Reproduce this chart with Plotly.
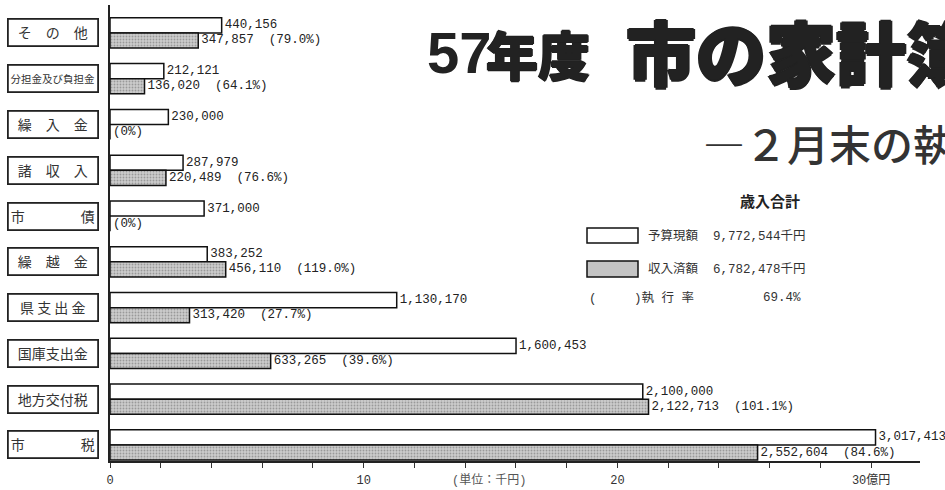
import plotly.graph_objects as go

# ---------------- data ----------------
categories = ["その他", "分担金及び負担金", "繰入金", "諸収入", "市債",
              "繰越金", "県支出金", "国庫支出金", "地方交付税", "市税"]
box_labels = ["そ　の　他", "分担金及び負担金", "繰　入　金", "諸　収　入", "市　　　　債",
              "繰　越　金", "県 支 出 金", "国庫支出金", "地方交付税", "市　　　　税"]
budget = [440156, 212121, 230000, 287979, 371000,
          383252, 1130170, 1600453, 2100000, 3017413]          # 予算現額 (千円)
revenue = [347857, 136020, 0, 220489, 0,
           456110, 313420, 633265, 2122713, 2552604]          # 収入済額 (千円)
rates = ["79.0%", "64.1%", "0%", "76.6%", "0%",
         "119.0%", "27.7%", "39.6%", "101.1%", "84.6%"]      # 執行率
tick_vals = [0, 1000000, 2000000, 3000000]
tick_text = ["0", "10", "20", "30億円"]

W, H = 945, 490
L, R, T, B = 110, 25, 5, 29
PW, PH = W - L - R, H - T - B

def px(x):
    return (x - L) / PW

def py(y):
    return (H - B - y) / PH

NUM_FONT = "Liberation Mono, Noto Sans CJK JP"
JP_FONT = "Noto Sans CJK JP"
HEAVY = "1px 0 0 #222, -1px 0 0 #222, 0 1px 0 #222, 0 -1px 0 #222"

budget_text = [f"{v:,}" for v in budget]
revenue_text = [("(0%)" if v == 0 else f"{v:,}\u00a0\u00a0({r})") for v, r in zip(revenue, rates)]

fig = go.Figure()
fig.add_trace(go.Bar(
    y=categories, x=budget, orientation="h", name="予算現額",
    marker=dict(color="white", line=dict(color="#111", width=1.5)),
    text=budget_text, textposition="outside", cliponaxis=False,
    constraintext="none",
    textfont=dict(family=NUM_FONT, size=12.5, color="#222"),
))
fig.add_trace(go.Bar(
    y=categories, x=revenue, orientation="h", name="収入済額",
    marker=dict(color="#c4c4c4", line=dict(color="#111", width=1.5),
                pattern=dict(shape=".", fgcolor="#666", bgcolor="#cccccc",
                             size=3, solidity=0.3)),
    text=revenue_text, textposition="outside", cliponaxis=False,
    constraintext="none",
    textfont=dict(family=NUM_FONT, size=12.5, color="#222"),
))

annotations = []
shapes = []

# category label boxes
for cat, lab in zip(categories, box_labels):
    fs = 10.5 if len(lab) >= 8 else 14
    annotations.append(dict(
        x=px(53), y=cat, xref="paper", yref="y", text=lab, showarrow=False,
        width=88, height=25, bgcolor="white", bordercolor="#222", borderwidth=1.8,
        borderpad=0, font=dict(family=JP_FONT, size=fs, color="#333"),
        xanchor="center", yanchor="middle"))

# title
annotations.append(dict(x=px(425), y=py(52), xref="paper", yref="paper",
                        text="<b>57</b>", showarrow=False, xanchor="left", yanchor="middle",
                        font=dict(family="Liberation Sans", size=58, color="#222")))
annotations.append(dict(x=px(484), y=py(54), xref="paper", yref="paper",
                        text="年度", showarrow=False, xanchor="left", yanchor="middle",
                        font=dict(family=JP_FONT, size=52, color="#222", weight=900,
                                  shadow=HEAVY)))
annotations.append(dict(x=px(624), y=py(50), xref="paper", yref="paper",
                        text="市の家計簿", showarrow=False, xanchor="left", yanchor="middle",
                        font=dict(family=JP_FONT, size=70, color="#222", weight=900,
                                  shadow="1.5px 0 0 #222, -1.5px 0 0 #222, 0 1.5px 0 #222, 0 -1.5px 0 #222")))
annotations.append(dict(x=px(701), y=py(142), xref="paper", yref="paper",
                        text="―２月末の執行状況―", showarrow=False, xanchor="left",
                        yanchor="middle",
                        font=dict(family=JP_FONT, size=42, color="#333", weight=500)))

# legend block
annotations.append(dict(x=px(770), y=py(200), xref="paper", yref="paper",
                        text="<b>歳入合計</b>", showarrow=False, xanchor="center",
                        yanchor="middle", font=dict(family=JP_FONT, size=15, color="#222")))
shapes.append(dict(type="rect", xref="paper", yref="paper",
                   x0=px(587), x1=px(638), y0=py(243), y1=py(228),
                   fillcolor="white", line=dict(color="#111", width=1.5)))
shapes.append(dict(type="rect", xref="paper", yref="paper",
                   x0=px(587), x1=px(638), y0=py(277), y1=py(261),
                   fillcolor="#c4c4c4", line=dict(color="#111", width=1.5)))
annotations.append(dict(x=px(646), y=py(236), xref="paper", yref="paper",
                        text="予算現額\u00a0\u00a09,772,544千円", showarrow=False,
                        xanchor="left", yanchor="middle",
                        font=dict(family=NUM_FONT, size=12.5, color="#333")))
annotations.append(dict(x=px(646), y=py(269), xref="paper", yref="paper",
                        text="収入済額\u00a0\u00a06,782,478千円", showarrow=False,
                        xanchor="left", yanchor="middle",
                        font=dict(family=NUM_FONT, size=12.5, color="#333")))
annotations.append(dict(x=px(587), y=py(298), xref="paper", yref="paper",
                        text="(\u00a0\u00a0\u00a0\u00a0\u00a0)執 行 率", showarrow=False,
                        xanchor="left", yanchor="middle",
                        font=dict(family=NUM_FONT, size=12.5, color="#333")))
annotations.append(dict(x=px(803), y=py(298), xref="paper", yref="paper",
                        text="69.4%", showarrow=False,
                        xanchor="right", yanchor="middle",
                        font=dict(family=NUM_FONT, size=12.5, color="#333")))

# unit note
annotations.append(dict(x=px(489), y=py(480), xref="paper", yref="paper",
                        text="(単位：千円)", showarrow=False,
                        xanchor="center", yanchor="middle",
                        font=dict(family=NUM_FONT, size=12, color="#555")))

fig.update_layout(
    width=W, height=H,
    margin=dict(l=L, r=R, t=T, b=B, autoexpand=False),
    paper_bgcolor="white", plot_bgcolor="white",
    barmode="group", bargap=0.34, bargroupgap=0,
    showlegend=False,
    annotations=annotations, shapes=shapes,
    xaxis=dict(range=[0, 810 / 253.7 * 1e6], showgrid=False, zeroline=False,
               automargin=False,
               showline=True, linecolor="#222", linewidth=1.5,
               tickvals=tick_vals, ticktext=tick_text, ticks="outside",
               ticklen=5, tickwidth=1.2, tickcolor="#333", ticklabelstandoff=2,
               minor=dict(dtick=200000, tick0=0, ticks="outside", ticklen=5,
                          tickwidth=1.2, tickcolor="#333"),
               tickfont=dict(family="Liberation Mono, Noto Sans CJK JP", size=12, color="#333")),
    yaxis=dict(categoryorder="array", categoryarray=categories, automargin=False,
               range=[9.35, -0.61], showgrid=False, zeroline=False,
               showline=True, linecolor="#222", linewidth=1.5,
               showticklabels=False, ticks=""),
)

fig.write_html("out.html", config={"displayModeBar": False},
               post_script="document.body.style.margin='0';document.body.style.overflow='hidden';")
